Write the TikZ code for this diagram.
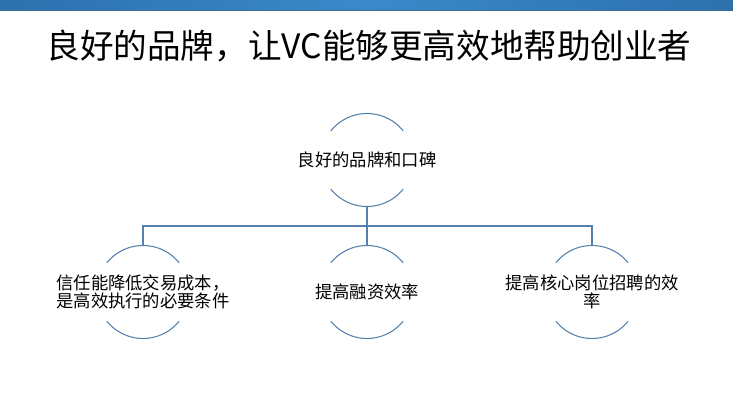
\documentclass[tikz,border=0pt]{standalone}
\usepackage{fontspec}
\setmainfont{Noto Sans CJK SC}
\usepackage{xcolor}
\usetikzlibrary{calc}
\definecolor{barDark}{RGB}{45,112,174}
\definecolor{barLight}{RGB}{58,137,201}
\definecolor{barEdge}{RGB}{60,110,142}
\definecolor{lineBlue}{RGB}{84,130,170}
\newcommand{\ringRadius}{46.5}

\begin{document}
\begin{tikzpicture}[x = 0.75pt, y = 0.75pt, link/.style = { draw = lineBlue, line width = 0.8pt }, ring/.style = { draw = lineBlue, line width = 0.8pt }, label/.style = { font = \fontsize{13pt}{14pt}\selectfont, inner sep = 0pt }]
				\useasboundingbox (0, 0) rectangle (733, 402);
				\shade [left color = barDark, right color = barDark, middle color = barLight] (0, 392) rectangle (733, 402);
				\fill [barEdge] (0, 391) rectangle (733, 392.3);

				\node [font = \fontsize{25.2pt}{30pt}\selectfont, inner sep = 0pt] (title) at (369, 356) {良好的品牌，让VC能够更高效地帮助创业者};

				\node [label] (brand) at (367, 242) {良好的品牌和口碑};
				\node [label, align = left] (trust) at (143, 110) {信任能降低交易成本，\\是高效执行的必要条件};
				\node [label] (funding) at (367, 110) {提高融资效率};
				\node [label, align = center] (hiring) at (592, 110) {提高核心岗位招聘的效\\率};

				\foreach \n in {brand, trust, funding, hiring} {
					\draw [ring] ($(\n.center) + (39:\ringRadius)$) arc [start angle = 39, end angle = 141, radius = \ringRadius];
					\draw [ring] ($(\n.center) + (219:\ringRadius)$) arc [start angle = 219, end angle = 321, radius = \ringRadius];
					\coordinate (\n T) at ($(\n.center) + (0, \ringRadius)$);
					\coordinate (\n B) at ($(\n.center) + (0, -\ringRadius)$);
				}

				\coordinate (bus) at (367, 176);
				\draw [link] (brandB) -- (bus);
				\draw [link] (bus) -| (trustT);
				\draw [link] (bus) -- (fundingT);
				\draw [link] (bus) -| (hiringT);
			\end{tikzpicture}
\end{document}
